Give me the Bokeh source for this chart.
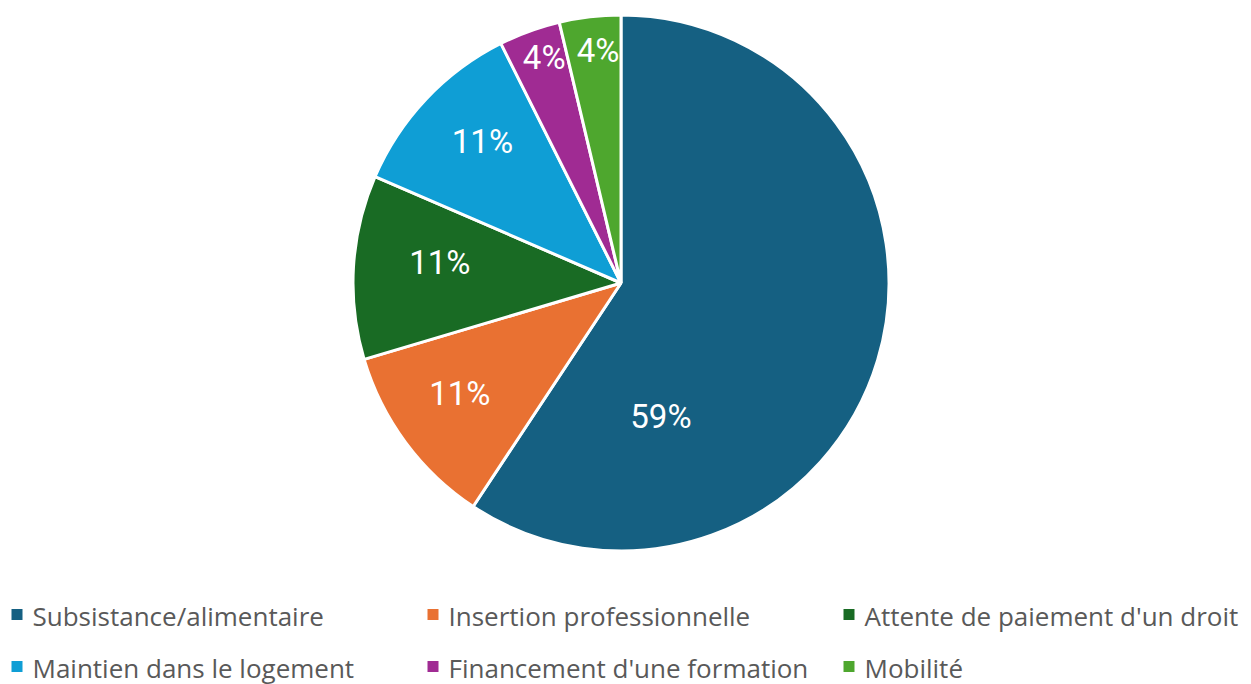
import numpy as np
from bokeh.plotting import figure
from bokeh.models import Range1d, ColumnDataSource
from bokeh.core.properties import value
from bokeh.embed import file_html
from bokeh.resources import INLINE

# ---- data ----
categories = ["Subsistance/alimentaire", "Insertion professionnelle",
              "Attente de paiement d'un droit", "Maintien dans le logement",
              "Financement d'une formation", "Mobilité"]
shares = [59.3, 11.1, 11.1, 11.1, 3.7, 3.7]
colors = ["#156082", "#E97132", "#196B24", "#0F9ED5", "#A02B93", "#4EA72E"]

# ---- layout / style ----
W, H = 1251, 684
CX, CY, R = 620.5, H - 282.5, 268
label_rfrac = [0.52, 0.73, 0.68, 0.74, 0.89, 0.87]
label_angle_off = [56.6, 2.0, 3.0, 2.3, 1.2, 1.0]  # degrees clockwise from slice middle
LEG_X0, LEG_COLW, LEG_Y0, LEG_ROWH = 11, 416, 615, 52

vals = np.array(shares, dtype=float)
frac = vals / vals.sum()
cum = np.concatenate([[0], np.cumsum(frac)])
start = np.pi / 2 - 2 * np.pi * cum[:-1]
end = np.pi / 2 - 2 * np.pi * cum[1:]

p = figure(width=W, height=H, output_backend="svg", toolbar_location=None,
           x_range=Range1d(0, W), y_range=Range1d(0, H), min_border=0,
           background_fill_color="white", border_fill_color="white")
p.axis.visible = False
p.grid.visible = False
p.outline_line_color = None

src = ColumnDataSource(dict(start=start, end=end, color=colors))
p.wedge(x=CX, y=CY, radius=R, start_angle="start", end_angle="end",
        direction="clock", fill_color="color", line_color="white",
        line_width=3, source=src)

mid_deg = 360 * (cum[:-1] + cum[1:]) / 2 + np.array(label_angle_off)
theta = np.deg2rad(mid_deg)
lx = CX + R * np.array(label_rfrac) * np.sin(theta)
ly = CY + R * np.array(label_rfrac) * np.cos(theta)
labels = [f"{round(v)}%" for v in vals / vals.sum() * 100]
p.text(x=lx, y=ly, text=labels, text_align="center", text_baseline="middle",
       text_color="white", text_font_size="33px", text_font_style="normal",
       text_font=value("Roboto"))

# legend
idx = np.arange(len(categories))
col = idx % 3
row = idx // 3
cy_leg = H - (LEG_Y0 + LEG_ROWH * row)
mx = LEG_X0 + 5.5 + LEG_COLW * col
p.rect(x=mx, y=cy_leg + 1, width=11, height=11, fill_color=colors, line_color=None)
p.text(x=mx + 15.5, y=cy_leg, text=categories, text_align="left", text_baseline="middle",
       text_color="#595959", text_font_size="26px", text_font=value("Open Sans"))

open("out.html", "w").write(file_html(p, INLINE))
